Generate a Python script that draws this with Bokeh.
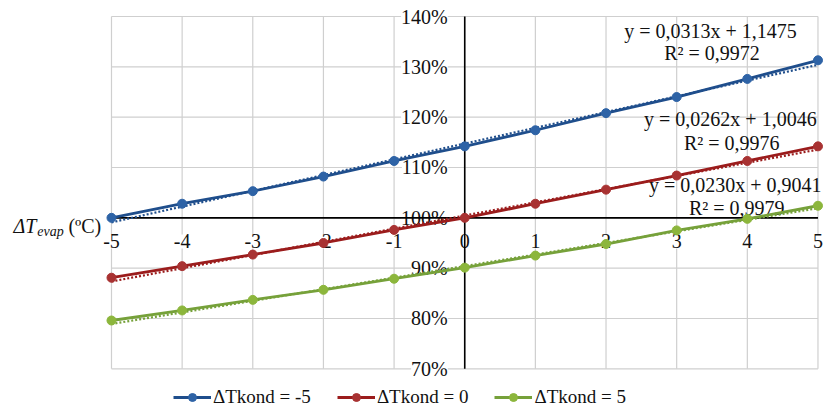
from bokeh.plotting import figure
from bokeh.models import Range1d, Legend, LegendItem
from bokeh.core.properties import value
from bokeh.embed import file_html
from bokeh.resources import INLINE
import numpy as np

# ---- data ----
dt_evap = [-5, -4, -3, -2, -1, 0, 1, 2, 3, 4, 5]
kond_m5 = [1.000, 1.028, 1.053, 1.082, 1.113, 1.142, 1.174, 1.208, 1.240, 1.276, 1.313]
kond_0 = [0.881, 0.904, 0.927, 0.950, 0.976, 1.000, 1.028, 1.056, 1.084, 1.113, 1.142]
kond_5 = [0.796, 0.816, 0.837, 0.857, 0.879, 0.901, 0.925, 0.948, 0.975, 0.998, 1.024]
series_names = ["ΔTkond = -5", "ΔTkond = 0", "ΔTkond = 5"]
trend_slope = [0.0313, 0.0262, 0.0230]
trend_intercept = [1.1475, 1.0046, 0.9041]
trend_r2 = [0.9972, 0.9976, 0.9979]
x_ticks = [-5, -4, -3, -2, -1, 0, 1, 2, 3, 4, 5]
y_ticks = [0.7, 0.8, 0.9, 1.0, 1.1, 1.2, 1.3, 1.4]
y_tick_labels = ["70%", "80%", "90%", "100%", "110%", "120%", "130%", "140%"]

line_colors = ["#1f4e8c", "#9b1c1c", "#76a13a"]
marker_colors = ["#2e63a6", "#a83232", "#8cb63c"]
FONT = "Liberation Serif"

p = figure(width=828, height=418, output_backend="svg", toolbar_location=None,
           x_range=Range1d(-6.571, 5.149), y_range=Range1d(0.6013, 1.4318),
           min_border=0, min_border_left=0, min_border_right=0,
           min_border_top=0, min_border_bottom=0)
p.xaxis.visible = False
p.yaxis.visible = False
p.xgrid.visible = False
p.ygrid.visible = False
p.outline_line_color = None

# grid
gc = "#cfcfcf"
p.segment(x0=x_ticks, y0=[y_ticks[0]] * len(x_ticks), x1=x_ticks, y1=[y_ticks[-1]] * len(x_ticks),
          line_color=gc, line_width=1.2)
p.segment(x0=[x_ticks[0]] * len(y_ticks), y0=y_ticks, x1=[x_ticks[-1]] * len(y_ticks), y1=y_ticks,
          line_color=gc, line_width=1.2)

# tick labels
p.text(x=[-0.24] * len(y_ticks), y=y_ticks, text=y_tick_labels, text_font=value(FONT),
       text_font_size="20px", text_align="right", text_baseline="middle", text_color="#111111",
       background_fill_color="white")
p.text(x=x_ticks, y=[0.953] * len(x_ticks), text=[str(t) for t in x_ticks], text_font=value(FONT),
       text_font_size="20px", text_align="center", text_baseline="middle", text_color="#111111",
       background_fill_color="white")

# axes
p.segment(x0=[x_ticks[0]], y0=[1.0], x1=[x_ticks[-1]], y1=[1.0], line_color="black", line_width=1.6)
p.segment(x0=[0], y0=[y_ticks[0]], x1=[0], y1=[y_ticks[-1]], line_color="black", line_width=1.6)

# axis title
p.text(x=[-6.387], y=[0.9847], text=["ΔT"], text_font=value(FONT), text_font_style="italic",
       text_font_size="20px", text_baseline="middle", text_color="#111111")
p.text(x=[-6.05], y=[0.9728], text=["evap"], text_font=value(FONT), text_font_style="italic",
       text_font_size="14px", text_baseline="middle", text_color="#111111")
p.text(x=[-5.61], y=[0.9847], text=["(ºC)"], text_font=value(FONT),
       text_font_size="20px", text_baseline="middle", text_color="#111111")

# trend labels
label_pos = [(3.48, 1.372, 1.3265), (3.76, 1.1973, 1.1477), (3.83, 1.0662, 1.0205)]
for i in range(3):
    lx, ly1, ly2 = label_pos[i]
    eq = "y = {:.4f}x + {:.4f}".format(trend_slope[i], trend_intercept[i]).replace(".", ",")
    r2 = "R² = {:.4f}".format(trend_r2[i]).replace(".", ",")
    p.text(x=[lx], y=[ly1], text=[eq], text_font=value(FONT), text_font_size="20px",
           text_align="center", text_baseline="middle", text_color="#111111")
    p.text(x=[lx + 0.02], y=[ly2], text=[r2], text_font=value(FONT), text_font_size="20px",
           text_align="center", text_baseline="middle", text_color="#111111")

# series
all_series = [kond_m5, kond_0, kond_5]
items = []
xs = np.array(dt_evap, dtype=float)
for i, ys in enumerate(all_series):
    tr = trend_slope[i] * xs + trend_intercept[i]
    p.line(xs, tr, line_color=line_colors[i], line_width=2.2, line_dash="2 2")
    l = p.line(dt_evap, ys, line_color=line_colors[i], line_width=2.8)
    s = p.scatter(dt_evap, ys, size=9, fill_color=marker_colors[i], line_color=marker_colors[i])
    items.append(LegendItem(label=series_names[i], renderers=[l, s]))

legend = Legend(items=items, orientation="horizontal", location=(173, 10),
                label_text_font=FONT, label_text_font_size="19px", label_text_color="#111111",
                glyph_width=38, glyph_height=20, label_standoff=2, spacing=26,
                padding=0, margin=0, border_line_color=None, background_fill_alpha=0)
p.add_layout(legend)

open("out.html", "w").write(file_html(p, INLINE))
